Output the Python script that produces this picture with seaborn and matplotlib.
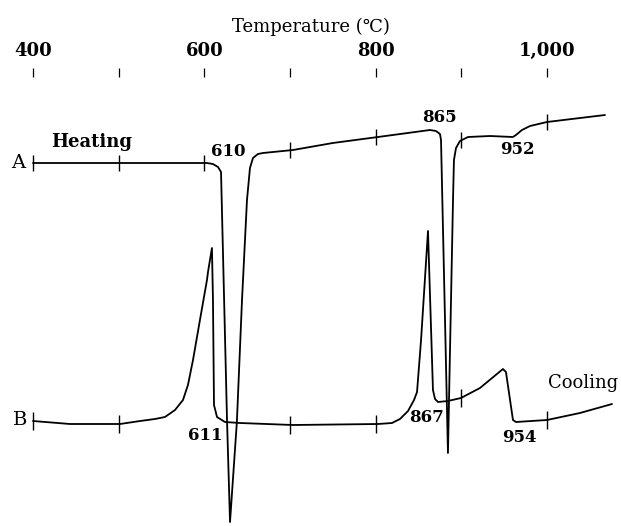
import numpy as np
import pandas as pd
import matplotlib
matplotlib.use("Agg")
import matplotlib.pyplot as plt
import seaborn as sns

# ---- data ----
# Curve A: heating (temperature in degC, DTA signal in arbitrary units, + = up)
heat_T = [400, 501.6, 603, 610, 616, 619.5, 626.5, 630, 638, 644, 649.8, 653.3,
          656.8, 662.6, 668.5, 703.5, 750, 802.7, 863.4, 870.4, 875.1, 876.3,
          884.4, 890.3, 891.4, 893.8, 898.4, 907.8, 933.5, 960.3, 963.8, 970.8,
          980.2, 1000, 1067.7]
heat_S = [0, 0, 0, -1, -4, -9, -257, -359, -259, -137, -37, -5,
          5, 9, 10, 13, 20, 26, 33, 32, 29, 23,
          -290, -37, 3, 15, 22, 26, 27, 26, 28, 33,
          37, 41, 48]
# Curve B: cooling
cool_T = [400, 443.2, 501.6, 525, 542.4, 554.1, 565.8, 575.1, 580.9, 586.8,
          594.9, 603.1, 604.3, 608.9, 610.1, 611.3, 614.8, 624.1, 641.6, 703.5,
          802.7, 819.1, 828.4, 837.8, 844.8, 848.3, 853, 861.1, 866.9, 869.3,
          872.8, 884.4, 899.6, 921.8, 948.6, 952.1, 960.3, 963.8, 1000, 1038.5,
          1075.9]
cool_S = [1, -2, -2, 1, 3, 5, 12, 22, 37, 62,
          102, 142, 150, 174, 122, 17, 5, 0, -1, -3,
          -2, -1, 3, 11, 22, 30, 82, 191, 32, 23,
          20, 21, 24, 34, 53, 50, 2, 0, 2, 9,
          18]

tick_T = [400, 500, 600, 700, 800, 900, 1000]
tick_labels = ["400", "", "600", "", "800", "", "1,000"]
heat_marks = [400, 500, 600, 700, 800, 900, 1000]
cool_marks = [400, 500, 700, 800, 900, 1000]

peak_heat = [("610", 627.6, 11), ("865", 873.9, 46), ("952", 965.0, 13)]
peak_cool = [("611", 600.8, -13), ("867", 859.9, 4), ("954", 967.3, -15)]

# ---- styling ----
sns.set_style("white")
serif = ["DejaVu Serif", "DejaVu Sans"]
plt.rcParams["font.family"] = serif
plt.rcParams["text.color"] = "black"
plt.rcParams["xtick.color"] = "black"
plt.rcParams["xtick.labelcolor"] = "black"
plt.rcParams["axes.labelcolor"] = "black"

offA, offB = 363, 104   # vertical placement of the two traces

fig = plt.figure(figsize=(6.21, 5.26), dpi=100)
ax = fig.add_axes([0, 0, 1, 449 / 526])
ax.set_xlim(361.5, 1086.4)
ax.set_ylim(0, 449)

dfA = pd.DataFrame({"T": heat_T, "S": np.array(heat_S) + offA})
dfB = pd.DataFrame({"T": cool_T, "S": np.array(cool_S) + offB})
sns.lineplot(data=dfA, x="T", y="S", sort=False, estimator=None, color="black",
             linewidth=1.3, ax=ax)
sns.lineplot(data=dfB, x="T", y="S", sort=False, estimator=None, color="black",
             linewidth=1.3, ax=ax)

# temperature marks on the traces
for t in heat_marks:
    y = np.interp(t, heat_T, heat_S) + offA
    ax.vlines(t, y - 8, y + 8, color="black", linewidth=1.0)
for t in cool_marks:
    y = np.interp(t, cool_T, cool_S) + offB
    ax.vlines(t, y - 9, y + 9, color="black", linewidth=1.0)

# top temperature scale
for s in ax.spines.values():
    s.set_visible(False)
ax.set_yticks([])
ax.xaxis.tick_top()
ax.xaxis.set_label_position("top")
ax.set_xticks(tick_T)
ax.set_xticklabels(tick_labels, fontsize=13, fontweight="bold", family=serif,
                   color="black")
ax.tick_params(axis="x", direction="out", length=6.5, width=0.9, pad=6,
               top=True, bottom=False, color="black")
ax.set_xlabel("Temperature (℃)", fontsize=13, family=serif, labelpad=7,
              color="black")
ax.set_ylabel("")

# labels
ax.text(382.5, offA, "A", fontsize=14, ha="center", va="center", family=serif)
ax.text(384.8, offB + 2, "B", fontsize=14, ha="center", va="center", family=serif)
ax.text(468.9, offA + 21, "Heating", fontsize=13, fontweight="bold",
        ha="center", va="center", family=serif)
ax.text(1042, offB + 39, "Cooling", fontsize=13, ha="center", va="center",
        family=serif)
for lab, t, dy in peak_heat:
    ax.text(t, offA + dy, lab, fontsize=12, fontweight="bold", ha="center",
            va="center", family=serif)
for lab, t, dy in peak_cool:
    ax.text(t, offB + dy, lab, fontsize=12, fontweight="bold", ha="center",
            va="center", family=serif)

fig.savefig("out.png", dpi=100)
